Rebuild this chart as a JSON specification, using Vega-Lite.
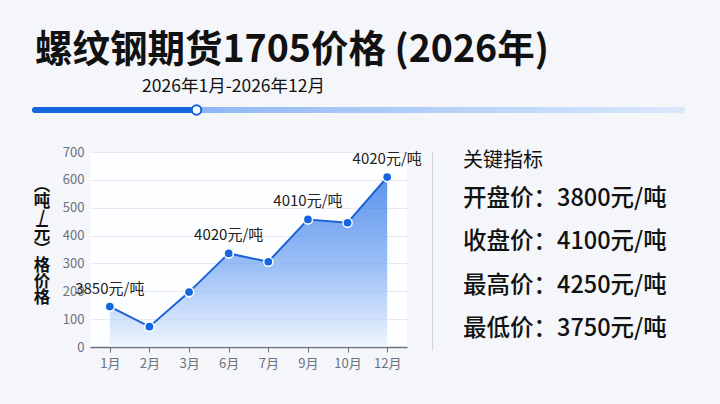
{
  "$schema": "https://vega.github.io/schema/vega-lite/v6.json",
  "background": "#f4f6f9",
  "padding": {"left": 32, "top": 31, "right": 35, "bottom": 34},
  "config": {"view": {"stroke": null}, "font": "Noto Sans CJK SC"},
  "title": {
    "text": "螺纹钢期货1705价格 (2026年)",
    "anchor": "start",
    "fontSize": 37.5,
    "fontWeight": "bold",
    "font": "Noto Sans CJK SC",
    "color": "#111111",
    "offset": 9,
    "dx": 3
  },
  "spacing": 27,
  "vconcat": [
    {
      "width": 653,
      "height": 6,
      "data": {"values": [{"start": 0, "end": 1, "pos": 0.252, "label": "2026年1月-2026年12月"}]},
      "layer": [
        {
          "mark": {"type": "bar", "height": 6, "cornerRadius": 3,
            "color": {"gradient": "linear", "x1": 0, "y1": 0, "x2": 1, "y2": 0,
              "stops": [{"offset": 0, "color": "#4f8ff0"}, {"offset": 0.3, "color": "#94bbf5"}, {"offset": 1, "color": "#dbe8fb"}]}},
          "encoding": {
            "x": {"field": "start", "type": "quantitative", "scale": {"domain": [0, 1], "nice": false, "zero": false}, "axis": null},
            "x2": {"field": "end"}
          }
        },
        {
          "mark": {"type": "bar", "height": 6, "cornerRadius": 3, "color": "#1466dc"},
          "encoding": {
            "x": {"field": "start", "type": "quantitative", "axis": null},
            "x2": {"field": "pos"}
          }
        },
        {
          "mark": {"type": "point", "filled": true, "fill": "#ffffff", "stroke": "#1466dc", "strokeWidth": 2, "size": 90, "opacity": 1},
          "encoding": {"x": {"field": "pos", "type": "quantitative", "axis": null}}
        },
        {
          "mark": {"type": "text", "fontSize": 17.5, "color": "#111111", "dx": 37, "dy": -23, "align": "center", "baseline": "middle"},
          "encoding": {"x": {"field": "pos", "type": "quantitative", "axis": null}, "text": {"field": "label"}}
        }
      ]
    },
    {
      "spacing": 10,
      "hconcat": [
        {
          "spacing": 0,
          "hconcat": [
            {
              "width": 1,
              "height": 1,
              "data": {"values": []},
              "mark": {"type": "point", "opacity": 0}
            },
            {
              "width": 317,
              "height": 195,
              "view": {"fill": "#fdfeff"},
              "data": {"values": [
                {"month": "1月", "value": 145, "label": "3850元/吨"},
                {"month": "2月", "value": 73, "label": ""},
                {"month": "3月", "value": 197, "label": ""},
                {"month": "6月", "value": 336, "label": "4020元/吨"},
                {"month": "7月", "value": 306, "label": ""},
                {"month": "9月", "value": 458, "label": "4010元/吨"},
                {"month": "10月", "value": 446, "label": ""},
                {"month": "12月", "value": 610, "label": "4020元/吨"}
              ]},
              "encoding": {
                "x": {"field": "month", "type": "ordinal", "sort": null,
                  "scale": {"type": "point", "padding": 0.5},
                  "axis": {"title": null, "labelAngle": 0, "domainColor": "#6b7280", "domainWidth": 1.5, "tickColor": "#6b7280", "tickSize": 5, "labelColor": "#6b7280", "labelFontSize": 13, "labelPadding": 5, "grid": false}},
                "y": {"field": "value", "type": "quantitative",
                  "scale": {"domain": [0, 700], "nice": false},
                  "axis": {"values": [0, 100, 200, 300, 400, 500, 600, 700], "labelOverlap": false, "domain": false, "ticks": false, "gridColor": "#e6e9ee", "labelColor": "#6b7280", "labelFontSize": 13, "labelPadding": 6,
                    "title": ["︵", "吨", "/", "元", "︶", "格", "价", "格"], "titleAngle": 0, "titleAlign": "center", "titleBaseline": "middle", "titleFontSize": 16.5, "titleFontWeight": "bold", "titleColor": "#111111", "titleLineHeight": 16, "titleX": -48.5, "titleY": 33}}
              },
              "layer": [
                {
                  "mark": {"type": "area",
                    "color": {"gradient": "linear", "x1": 0, "y1": 1, "x2": 0, "y2": 0,
                      "stops": [{"offset": 0, "color": "#e9f1fd"}, {"offset": 0.45, "color": "#76a8f2"}, {"offset": 1, "color": "#1766e5"}]},
                    "line": {"color": "#1a62d6", "strokeWidth": 2},
                    "point": {"filled": true, "color": "#1466e0", "size": 85, "stroke": "#ffffff", "strokeWidth": 1.5}}
                },
                {
                  "transform": [{"filter": "datum.label != ''"}],
                  "mark": {"type": "text", "dy": -18, "fontSize": 15, "color": "#222222"},
                  "encoding": {
                    "text": {"field": "label"}
                  }
                }
              ]
            }
          ]
        },
        {
          "width": 62,
          "height": 198,
          "data": {"values": [
            {"row": "关键指标", "text": "关键指标", "kind": "head"},
            {"row": "开盘价", "text": "开盘价：3800元/吨", "kind": "item"},
            {"row": "收盘价", "text": "收盘价：4100元/吨", "kind": "item"},
            {"row": "最高价", "text": "最高价：4250元/吨", "kind": "item"},
            {"row": "最低价", "text": "最低价：3750元/吨", "kind": "item"}
          ]},
          "encoding": {
            "y": {"field": "row", "type": "ordinal",
              "scale": {"type": "point", "domain": ["关键指标", "开盘价", "收盘价", "最高价", "最低价"], "padding": 0.302, "align": 0.115},
              "axis": {"domain": true, "domainColor": "#cfd4dc", "domainWidth": 1, "labels": false, "ticks": false, "title": null, "grid": false}}
          },
          "layer": [
            {
              "transform": [{"filter": "datum.kind == 'head'"}],
              "mark": {"type": "text", "align": "left", "baseline": "middle", "fontSize": 20, "dy": 6, "color": "#111111"},
              "encoding": {"text": {"field": "text"}}
            },
            {
              "transform": [{"filter": "datum.kind == 'item'"}],
              "mark": {"type": "text", "align": "left", "baseline": "middle", "fontSize": 23.5, "fontWeight": 500, "dy": 1.5, "color": "#111111"},
              "encoding": {"text": {"field": "text"}}
            }
          ]
        }
      ]
    }
  ]
}
